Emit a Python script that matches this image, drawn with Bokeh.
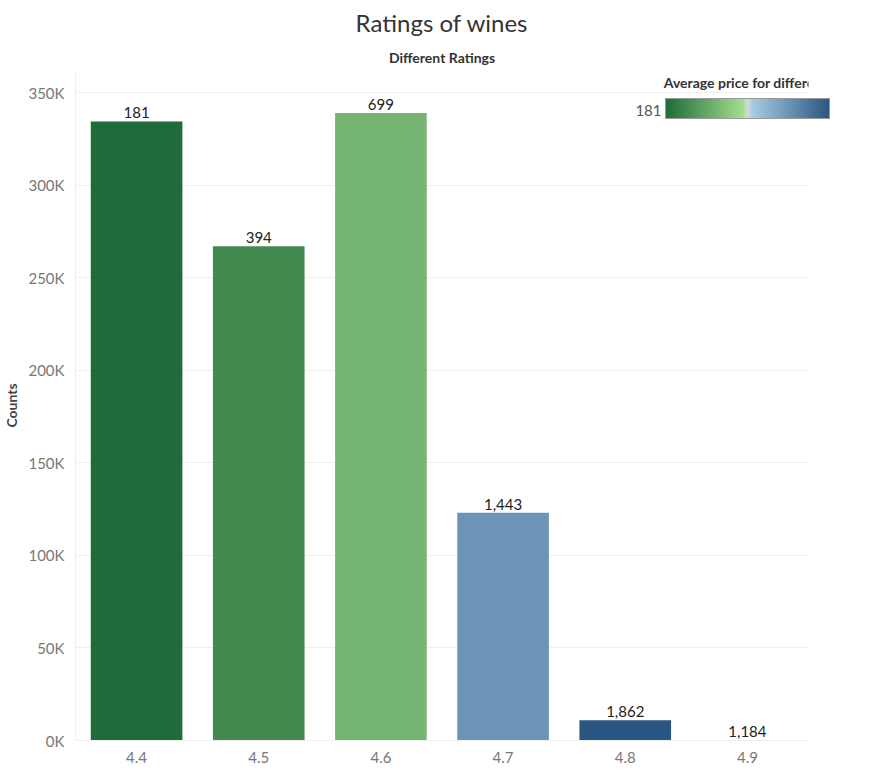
import numpy as np
from bokeh.core.properties import value
from bokeh.embed import file_html
from bokeh.models import (BasicTicker, ColorBar, ColumnDataSource, Label,
                          LinearColorMapper, NumeralTickFormatter, Title)
from bokeh.plotting import figure
from bokeh.resources import INLINE

ratings = ["4.4", "4.5", "4.6", "4.7", "4.8", "4.9"]
counts = [334500, 267000, 339000, 123000, 11000, 300]
avg_price = [181, 394, 699, 1443, 1862, 1184]

# green -> light -> blue diverging palette
stops = [(0.0, "#1f6b3a"), (0.47, "#a3dc8e"), (0.5, "#d2dad6"), (0.53, "#a8cbe4"), (1.0, "#2a5682")]


def hex2rgb(h):
    return np.array([int(h[i:i + 2], 16) for i in (1, 3, 5)], dtype=float)


palette = []
for t in np.linspace(0, 1, 256):
    for (t0, c0), (t1, c1) in zip(stops[:-1], stops[1:]):
        if t0 <= t <= t1:
            f = (t - t0) / (t1 - t0)
            rgb = hex2rgb(c0) * (1 - f) + hex2rgb(c1) * f
            palette.append("#%02x%02x%02x" % tuple(int(round(v)) for v in rgb))
            break

mapper = LinearColorMapper(palette=palette, low=min(avg_price), high=max(avg_price))

source = ColumnDataSource(data=dict(
    rating=ratings,
    count=counts,
    price=avg_price,
    label=[f"{v:,}" for v in avg_price],
))

FONT = "Lato"

p = figure(x_range=ratings, y_range=(0, 362000), width=876, height=768,
           output_backend="svg", toolbar_location=None,
           min_border_left=70, min_border_right=68, min_border_bottom=28)
p.outline_line_color = None
p.title.text = "Ratings of wines"
p.title.align = "center"
p.title.offset = -39
p.title.text_font = FONT
p.title.text_font_style = "normal"
p.title.text_font_size = "24px"
p.title.text_color = "#333333"
p.add_layout(Title(text="Different Ratings", align="center", text_font=FONT,
                   text_font_size="14px", text_font_style="bold", text_color="#333333"), "above")

p.vbar(x="rating", top="count", width=0.75, source=source,
       fill_color={"field": "price", "transform": mapper}, line_color=None)
p.text(x="rating", y="count", text="label", source=source, text_align="center",
       text_baseline="bottom", y_offset=-3, text_font=value(FONT),
       text_font_size="15px", text_color="#222222")

p.xgrid.grid_line_color = None
p.ygrid.grid_line_color = "#efefef"
p.yaxis.ticker = list(range(0, 350001, 50000))
p.yaxis.formatter = NumeralTickFormatter(format="0a")
p.yaxis.major_label_overrides = {v: f"{v // 1000}K" for v in range(0, 350001, 50000)}
p.yaxis.axis_label = "Counts"
p.yaxis.axis_label_text_font = FONT
p.yaxis.axis_label_text_font_style = "bold"
p.yaxis.axis_label_text_font_size = "14px"
for ax in (p.xaxis, p.yaxis):
    ax.major_label_text_font = FONT
    ax.major_label_text_font_size = "15px"
    ax.major_label_text_color = "#777777"
    ax.axis_line_color = "#eeeeee"
    ax.major_tick_line_color = None
    ax.minor_tick_line_color = None

cb = ColorBar(color_mapper=mapper, orientation="horizontal", width=164, height=20,
              location=(590, 622), ticker=BasicTicker(desired_num_ticks=0),
              major_label_text_font_size="0px", major_tick_line_color=None,
              bar_line_color="#999999", background_fill_alpha=0, padding=0)
p.add_layout(cb, "center")
p.add_layout(Label(x=798, y=650, x_units="screen", y_units="screen",
                   text="Average price for different ratings", text_align="right",
                   text_font=FONT, text_font_size="14px", text_font_style="bold",
                   text_color="#333333"))
p.add_layout(Label(x=586, y=625, x_units="screen", y_units="screen", text="181",
                   text_align="right", text_font=FONT, text_font_size="15px",
                   text_color="#555555"))
p.add_layout(Label(x=757, y=625, x_units="screen", y_units="screen", text="1,862",
                   text_align="left", text_font=FONT, text_font_size="15px",
                   text_color="#555555"))

open("out.html", "w").write(file_html(p, INLINE))
